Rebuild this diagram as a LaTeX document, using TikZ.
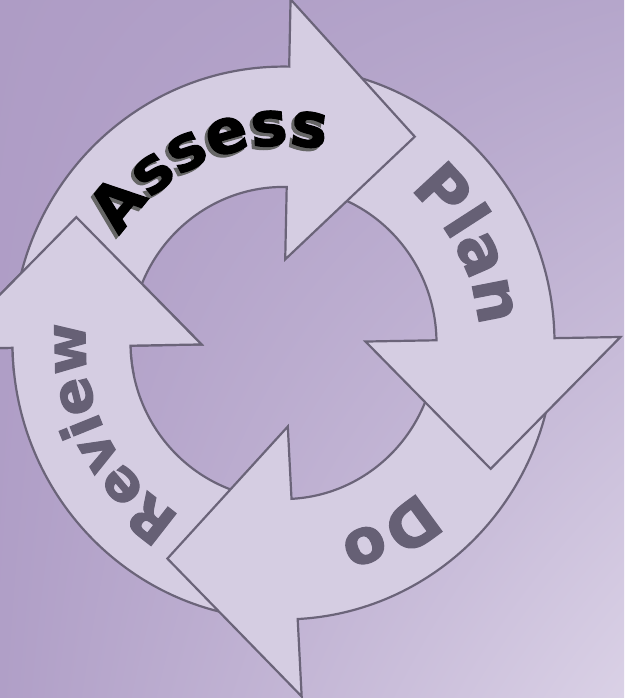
\documentclass[tikz,border=0pt]{standalone}
\usepackage{fontspec}
\setmainfont{DejaVu Sans}[BoldFeatures = {FakeBold = 2}]
\usetikzlibrary{decorations.text, shadings}

\definecolor{bgtl}{HTML}{AE9CC5}
\definecolor{bgtr}{HTML}{B5A6CB}
\definecolor{bgbl}{HTML}{B09FC7}
\definecolor{bgbr}{HTML}{DAD1E6}
\definecolor{arrowfill}{HTML}{D5CDE2}
\definecolor{arrowline}{HTML}{6B6479}
\definecolor{labelgrey}{HTML}{666075}

% one bent arrow of the cycle: shaft from #2 to #3 (degrees, clockwise), head at #3
\newcommand\cyclearrow[3][337]{%
    \draw [fill = arrowfill, draw = arrowline, line width = 2.2pt, line join = miter]
        (#2:271) arc [start angle = #2, end angle = #3, radius = 271] -- (#3:#1)
        -- ([shift={(#3-90:127)}]#3:205) -- (#3:82) -- (#3:153)
        arc [start angle = #3, end angle = #2, radius = 153] -- cycle;
}
% bent word on the ring: colour, size, radius, from, to, word
\newcommand\ringlabel[6]{%
    \path [decorate, decoration = {text along path, text align = center,
        text = {|\color{#1}\bfseries\fontsize{#2}{#2}\selectfont|#6}}]
        (#4:#3) arc [start angle = #4, end angle = #5, radius = #3];
}

\begin{document}
\begin{tikzpicture}[x = 1pt, y = 1pt]
    \useasboundingbox (0, 0) rectangle (624, 698);
    \shade [upper left = bgtl, upper right = bgtr, lower left = bgbl, lower right = bgbr]
        (0, 0) rectangle (624, 698);

    \begin{scope}[shift = {(283.5, 355)}, yscale = 1.02]
        % Review, Do, Plan, Assess
        \cyclearrow{265}{181}
        \cyclearrow[347]{-7}{-87}
        \cyclearrow{81}{1}
        \cyclearrow{173}{88.8}

        % the Review head lies on top of the Assess tail
        \begin{scope}
            \clip (-400, -30) rectangle (0, 200);
            \cyclearrow{265}{181}
        \end{scope}

        \begin{scope}[shift = {(-3, -3)}]
            \ringlabel{black!60}{62}{194}{150}{75}{Assess}
        \end{scope}
        \ringlabel{black}{62}{194}{150}{75}{Assess}
        \ringlabel{labelgrey}{64}{196}{62}{-7}{Plan}
        \ringlabel{labelgrey}{62}{198}{-34}{-87}{Do}
        \ringlabel{labelgrey}{56}{198}{240}{173}{Review}
    \end{scope}
\end{tikzpicture}
\end{document}
